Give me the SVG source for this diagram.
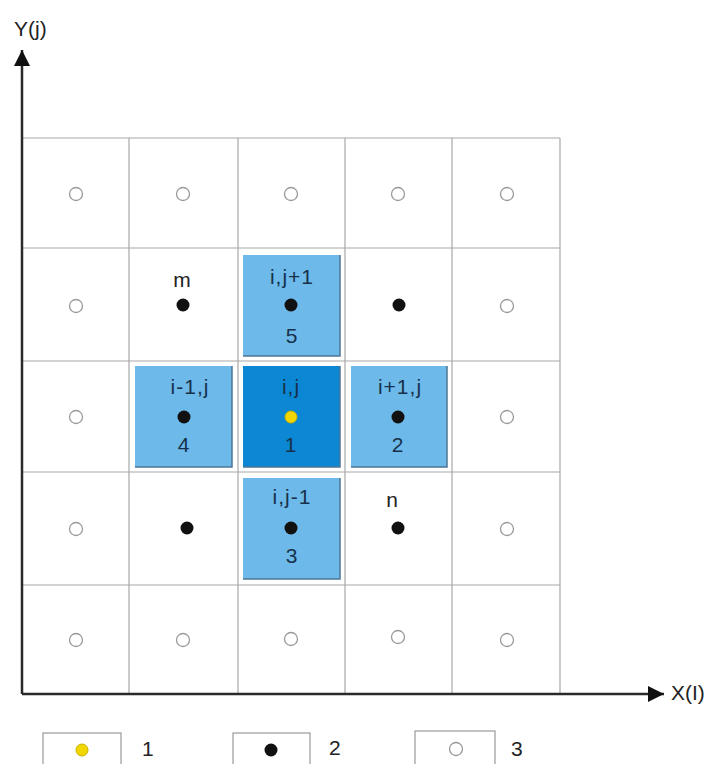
<svg xmlns="http://www.w3.org/2000/svg" width="727" height="764" viewBox="0 0 727 764">
<style>
.grid{stroke:#a8a8a8;stroke-width:1.2;fill:none}
.axis{stroke:#2a2a2a;stroke-width:2.5;fill:none}
.lb{fill:#6cb9ea}
.db{fill:#0b87d4}
.sh{stroke:#4d7594;stroke-width:1.5;fill:none}
.bt{font-family:"Liberation Sans",Arial,sans-serif;font-size:21px;fill:#18314a;text-anchor:middle;letter-spacing:1px}
.nt{font-family:"Liberation Sans",Arial,sans-serif;font-size:21px;fill:#222;text-anchor:middle}
.at{font-family:"Liberation Sans",Arial,sans-serif;font-size:21px;fill:#222}
.lt{font-family:"Liberation Sans",Arial,sans-serif;font-size:21px;fill:#222}
.bd{fill:#111}
.hc{fill:none;stroke:#9a9a9a;stroke-width:1.3}
.yd{fill:#f2d600;stroke:#c9b000;stroke-width:1}
.lg{fill:#fff;stroke:#9a9a9a;stroke-width:1.2}
</style>
<defs>
<marker id="ah" viewBox="0 0 10 10" refX="10" refY="5" markerWidth="8" markerHeight="6.4" markerUnits="strokeWidth" orient="auto">
<path d="M0,0 L10,5 L0,10 z" fill="#111"/>
</marker>
</defs>
<rect width="727" height="764" fill="#fff"/>
<g id="grid">
<path class="grid" d="M22,138H560 M22,248H560 M22,361H560 M22,472H560 M22,585H560"/>
<path class="grid" d="M129,138V694 M238,138V694 M345,138V694 M452,138V694 M560,138V694"/>
</g>
<g id="connectors">
<line class="axis" x1="22" y1="694" x2="22" y2="50" marker-end="url(#ah)"/>
<line class="axis" x1="22" y1="694" x2="664" y2="694" marker-end="url(#ah)"/>
</g>
<g id="axis-labels">
<text class="at" x="14" y="36">Y(j)</text>
<text class="at" x="671" y="700">X(I)</text>
</g>
<g id="node-ij1">
<rect class="lb" x="243" y="255" width="97" height="101"/>
<path class="sh" d="M243,356H340V255"/>
<text class="bt" x="292" y="284">i,j+1</text>
<circle class="bd" cx="291" cy="305" r="6.5"/>
<text class="bt" x="292" y="343">5</text>
</g>
<g id="node-i1j">
<rect class="lb" x="135" y="366" width="97" height="101"/>
<path class="sh" d="M135,467H232V366"/>
<text class="bt" x="190" y="394">i-1,j</text>
<circle class="bd" cx="184" cy="417" r="6.5"/>
<text class="bt" x="184" y="452">4</text>
</g>
<g id="node-ij">
<rect class="db" x="243" y="366" width="97" height="101"/>
<path class="sh" d="M243,467H340V366"/>
<text class="bt" x="291" y="394">i,j</text>
<circle class="yd" cx="291" cy="417" r="6"/>
<text class="bt" x="291" y="452">1</text>
</g>
<g id="node-ip1j">
<rect class="lb" x="351" y="366" width="96" height="101"/>
<path class="sh" d="M351,467H447V366"/>
<text class="bt" x="400" y="394">i+1,j</text>
<circle class="bd" cx="398" cy="417" r="6.5"/>
<text class="bt" x="398" y="452">2</text>
</g>
<g id="node-ijm1">
<rect class="lb" x="243" y="478" width="97" height="101"/>
<path class="sh" d="M243,579H340V478"/>
<text class="bt" x="292" y="504">i,j-1</text>
<circle class="bd" cx="291" cy="528" r="6.5"/>
<text class="bt" x="292" y="563">3</text>
</g>
<g id="node-m">
<text class="nt" x="182" y="287">m</text>
<circle class="bd" cx="183" cy="305" r="6.5"/>
</g>
<g id="node-n">
<text class="nt" x="392" y="507">n</text>
<circle class="bd" cx="398" cy="528" r="6.5"/>
</g>
<g id="node-r2c4"><circle class="bd" cx="399" cy="305" r="6.5"/></g>
<g id="node-r4c2"><circle class="bd" cx="187" cy="528" r="6.5"/></g>
<g id="hollow">
<circle class="hc" cx="76" cy="194" r="6.5"/>
<circle class="hc" cx="183" cy="194" r="6.5"/>
<circle class="hc" cx="291" cy="194" r="6.5"/>
<circle class="hc" cx="398" cy="194" r="6.5"/>
<circle class="hc" cx="507" cy="194" r="6.5"/>
<circle class="hc" cx="76" cy="306" r="6.5"/>
<circle class="hc" cx="507" cy="306" r="6.5"/>
<circle class="hc" cx="76" cy="417" r="6.5"/>
<circle class="hc" cx="507" cy="417" r="6.5"/>
<circle class="hc" cx="76" cy="529" r="6.5"/>
<circle class="hc" cx="507" cy="529" r="6.5"/>
<circle class="hc" cx="76" cy="640" r="6.5"/>
<circle class="hc" cx="183" cy="640" r="6.5"/>
<circle class="hc" cx="291" cy="639" r="6.5"/>
<circle class="hc" cx="398" cy="637" r="6.5"/>
<circle class="hc" cx="507" cy="640" r="6.5"/>
</g>
<g id="legend-1">
<rect class="lg" x="43" y="733" width="78" height="40"/>
<circle class="yd" cx="82" cy="750" r="6"/>
<text class="lt" x="142" y="756">1</text>
</g>
<g id="legend-2">
<rect class="lg" x="233" y="733" width="77" height="40"/>
<circle class="bd" cx="271" cy="750" r="6.5"/>
<text class="lt" x="329" y="755">2</text>
</g>
<g id="legend-3">
<rect class="lg" x="415" y="731" width="80" height="42"/>
<circle class="hc" cx="456" cy="749" r="6.5"/>
<text class="lt" x="511" y="756">3</text>
</g>
</svg>
